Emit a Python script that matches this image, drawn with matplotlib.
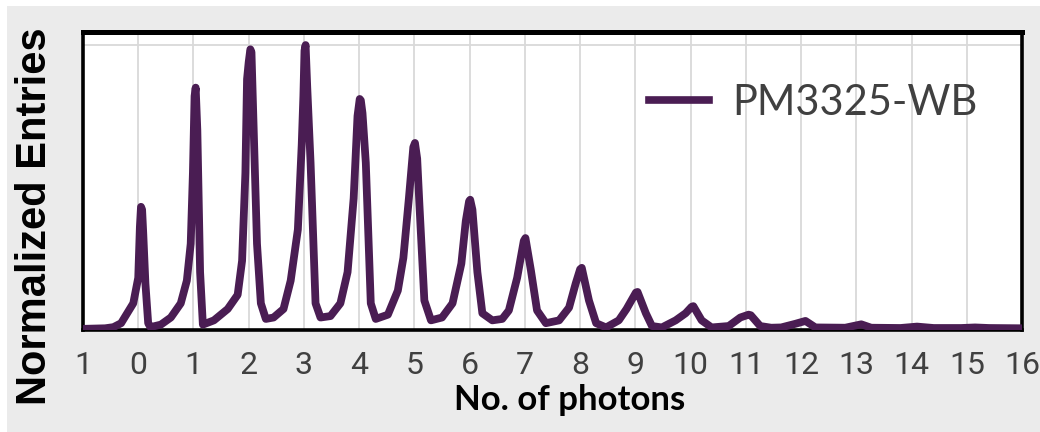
import matplotlib.pyplot as plt
from matplotlib.patches import Rectangle
from matplotlib.lines import Line2D

# Photon-number spectrum (x in photons, y normalised)
photons = [-1.0, -0.6, -0.45, -0.31, -0.17, -0.09, 0.0, 0.03, 0.05, 0.07, 0.09, 0.13, 0.18, 0.22,
           0.41, 0.59, 0.77, 0.88, 0.95, 0.99, 1.02, 1.04, 1.07, 1.12, 1.17,
           1.37, 1.62, 1.80, 1.88, 1.94, 1.97, 2.00, 2.03, 2.05, 2.09, 2.15, 2.22, 2.31,
           2.45, 2.63, 2.76, 2.89, 2.96, 2.99, 3.01, 3.03, 3.06, 3.12, 3.21, 3.30,
           3.48, 3.66, 3.79, 3.90, 3.97, 4.01, 4.03, 4.06, 4.12, 4.21, 4.30,
           4.52, 4.70, 4.80, 4.90, 4.98, 5.01, 5.05, 5.09, 5.18, 5.30,
           5.50, 5.69, 5.85, 5.93, 5.99, 6.01, 6.05, 6.14, 6.23, 6.41,
           6.59, 6.71, 6.86, 6.98, 7.01, 7.11, 7.22, 7.38,
           7.62, 7.80, 7.92, 8.00, 8.03, 8.16, 8.29, 8.47,
           8.70, 8.84, 9.01, 9.04, 9.19, 9.30, 9.48,
           9.73, 9.91, 10.02, 10.05, 10.20, 10.38,
           10.69, 10.90, 11.05, 11.09, 11.26, 11.46,
           11.64, 11.90, 12.08, 12.26, 12.80, 13.09, 13.27,
           13.80, 14.10, 14.40, 14.90, 15.15, 15.40, 16.0]
entries = [0.0, 0.002, 0.006, 0.02, 0.065, 0.09, 0.18, 0.36, 0.43, 0.42, 0.34, 0.16, 0.02, 0.006,
           0.015, 0.04, 0.09, 0.17, 0.30, 0.55, 0.82, 0.85, 0.70, 0.20, 0.015,
           0.03, 0.07, 0.12, 0.24, 0.55, 0.88, 0.94, 0.985, 0.975, 0.70, 0.30, 0.09, 0.035,
           0.04, 0.07, 0.17, 0.35, 0.65, 0.82, 0.98, 1.0, 0.85, 0.585, 0.09, 0.04,
           0.045, 0.09, 0.20, 0.46, 0.75, 0.81, 0.805, 0.76, 0.585, 0.09, 0.035,
           0.05, 0.135, 0.25, 0.46, 0.64, 0.655, 0.60, 0.44, 0.10, 0.03,
           0.04, 0.09, 0.23, 0.38, 0.45, 0.455, 0.42, 0.20, 0.055, 0.03,
           0.035, 0.065, 0.18, 0.31, 0.32, 0.205, 0.065, 0.02,
           0.03, 0.075, 0.16, 0.21, 0.215, 0.10, 0.02, 0.005,
           0.03, 0.07, 0.128, 0.13, 0.055, 0.01, 0.005,
           0.03, 0.055, 0.078, 0.08, 0.03, 0.005,
           0.01, 0.04, 0.05, 0.048, 0.01, 0.004,
           0.005, 0.018, 0.028, 0.005, 0.004, 0.016, 0.004,
           0.003, 0.008, 0.003, 0.003, 0.005, 0.003, 0.002]

tick_pos = list(range(-1, 17))
tick_labels = ['1'] + [str(i) for i in range(0, 17)]
series_name = 'PM3325-WB'

W, H = 1040, 432
purple = '#4a1d53'
grey_txt = '#404040'

fig = plt.figure(figsize=(W / 100, H / 100), dpi=100)
fig.patch.set_facecolor('white')
fig.patches.append(Rectangle((7 / W, 0), 1, 1 - 6 / H, transform=fig.transFigure,
                             facecolor='#ebebeb', edgecolor='none', zorder=-10))

ax = fig.add_axes([83 / W, 1 - 330 / H, (1022 - 83) / W, (330 - 32) / H])
ax.set_facecolor('white')
ax.plot(photons, entries, color=purple, lw=5.6, solid_joinstyle='round',
        solid_capstyle='round', zorder=3)

ax.set_xlim(-1, 16)
ax.set_ylim(-0.004, 1.046)
ax.set_xticks(tick_pos)
ax.set_xticklabels(tick_labels, fontfamily='Roboto', fontsize=23, color=grey_txt)
ax.set_yticks([1.0])
ax.set_yticklabels([])
ax.tick_params(axis='both', length=0)
ax.tick_params(axis='x', pad=15)
ax.grid(True, color='#d9d9d9', lw=1.3, zorder=0)
ax.set_axisbelow(True)

for side in ['left', 'right', 'bottom']:
    ax.spines[side].set_linewidth(2.6)
    ax.spines[side].set_color('black')
ax.spines['top'].set_linewidth(3.6)
ax.spines['top'].set_color('black')

handle = Line2D([], [], color=purple, lw=5.5)
leg = ax.legend([handle], [series_name], loc='center left', frameon=False,
                bbox_to_anchor=(649 / W, 1 - 103 / H), bbox_transform=fig.transFigure,
                borderpad=0, borderaxespad=0, handlelength=1.45, handletextpad=0.55,
                prop={'family': 'Lato', 'size': 30})
for t in leg.get_texts():
    t.set_color(grey_txt)

fig.text(570 / W, 1 - 400 / H, 'No. of photons', ha='center', va='center',
         fontfamily='Lato', fontweight='bold', fontsize=25, color='black')
fig.text(35 / W, 1 - 216 / H, 'Normalized Entries', ha='center', va='center',
         rotation=90, fontfamily='Liberation Sans', fontweight='bold', fontsize=30,
         color='black')

fig.savefig('out.png', dpi=100, facecolor=fig.get_facecolor())
